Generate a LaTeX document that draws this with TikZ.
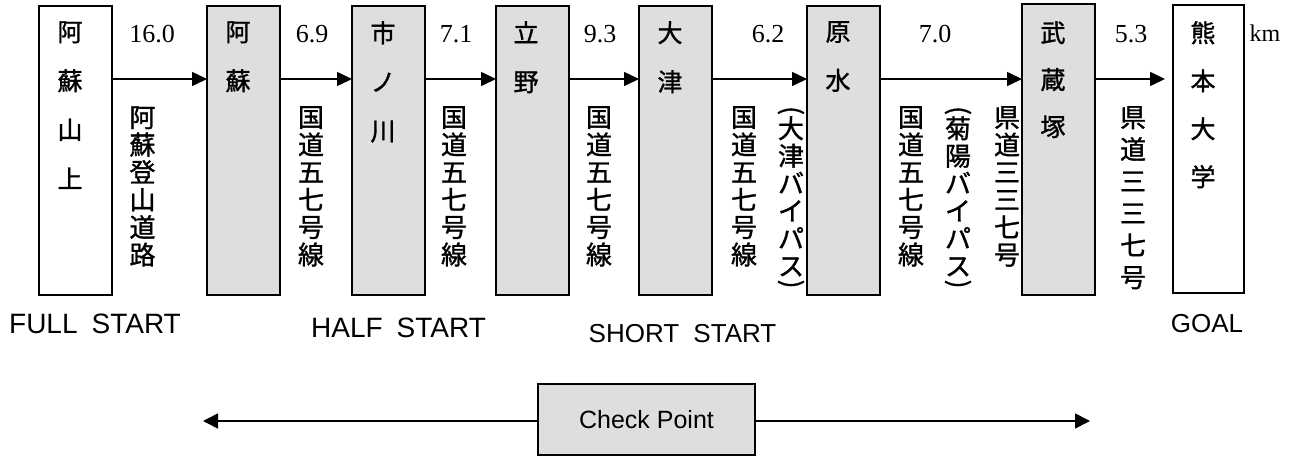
\documentclass[tikz,border=0pt]{standalone}
\usepackage{fontspec}
\setmainfont{Liberation Serif}
\setsansfont{Liberation Sans}
\newfontfamily\jpf{Noto Sans CJK JP}[BoldFont={Noto Sans CJK JP}, BoldFeatures={FakeBold=1.2}]
\newcommand{\jp}{\jpf\bfseries}
\usetikzlibrary{arrows.meta}
\definecolor{boxgray}{RGB}{222,222,222}
\newcommand{\tpar}{\rotatebox[origin=c]{-90}{(}}
\newcommand{\bpar}{\rotatebox[origin=c]{-90}{)}}
\tikzset{
 stn/.style={draw=black, line width=1.5pt, minimum width=73pt, minimum height=289pt, anchor=north west, inner sep=0pt, outer sep=0pt},
 gstn/.style={stn, fill=boxgray},
 stxt/.style={anchor=north, inner sep=0pt, align=center, font=\jp\fontsize{25}{49}\selectfont},
 road/.style={anchor=north, inner sep=0pt, align=center, font=\jp\fontsize{26}{27.5}\selectfont},
 dist/.style={anchor=base, inner sep=0pt, font=\fontsize{26}{30}\selectfont},
 lab/.style={anchor=base, inner sep=0pt, font=\sffamily\fontsize{26}{30}\selectfont},
 labbig/.style={lab, font=\sffamily\fontsize{28}{32}\selectfont},
 arr/.style={line width=1.6pt, -{Triangle[length=15pt,width=14pt]}},
 arrb/.style={line width=1.6pt, -{Triangle[length=15pt,width=15pt]}},
}
\begin{document}
\begin{tikzpicture}[x=1pt,y=-1pt]
\useasboundingbox (0,0) rectangle (1290,457);
\coordinate (ay) at (0,79);
% stations
\node[stn] (b1) at (39,6) {};
\node[gstn] (b2) at (207,6) {};
\node[gstn] (b3) at (352,6) {};
\node[gstn] (b4) at (496,6) {};
\node[gstn] (b5) at (639,6) {};
\node[gstn] (b6) at (807,6) {};
\node[gstn, minimum height=291pt] (b7) at (1022,4) {};
\node[stn, minimum width=71pt, minimum height=288pt] (b8) at (1173,5) {};
\node[stxt] (t1) at (70,21) {阿\\蘇\\山\\上};
\node[stxt] (t2) at (238,21) {阿\\蘇};
\node[stxt] (t3) at (383,21) {市\\ノ\\川};
\node[stxt] (t4) at (526,21) {立\\野};
\node[stxt] (t5) at (670,21) {大\\津};
\node[stxt] (t6) at (838,21) {原\\水};
\node[stxt, font=\jp\fontsize{25}{47}\selectfont] (t7) at (1053,21) {武\\蔵\\塚};
\node[stxt, font=\jp\fontsize{25}{48}\selectfont] (t8) at (1203,21) {熊\\本\\大\\学};
% arrows
\draw[arr] (b1.east|-ay) -- (b2.west|-ay);
\draw[arr] (b2.east|-ay) -- (b3.west|-ay);
\draw[arr] (b3.east|-ay) -- (b4.west|-ay);
\draw[arr] (b4.east|-ay) -- (b5.west|-ay);
\draw[arr] (b5.east|-ay) -- (b6.west|-ay);
\draw[arr] (b6.east|-ay) -- (b7.west|-ay);
\draw[arr, shorten >=8pt] (b7.east|-ay) -- (b8.west|-ay);
% distances
\node[dist] (d1) at (152,43) {16.0};
\node[dist] (d2) at (312,43) {6.9};
\node[dist] (d3) at (456,43) {7.1};
\node[dist] (d4) at (600,43) {9.3};
\node[dist] (d5) at (768,43) {6.2};
\node[dist] (d6) at (935,43) {7.0};
\node[dist] (d7) at (1131,43) {5.3};
\node[dist, font=\fontsize{24}{28}\selectfont] (km) at (1265,42) {km};
% roads
\node[road] (r1) at (142.5,106) {阿\\蘇\\登\\山\\道\\路};
\node[road] (r2) at (311,106) {国\\道\\五\\七\\号\\線};
\node[road] (r3) at (454,106) {国\\道\\五\\七\\号\\線};
\node[road] (r4) at (599,106) {国\\道\\五\\七\\号\\線};
\node[road] (r5) at (744,106) {国\\道\\五\\七\\号\\線};
\node[road] (r6) at (791,106) {\tpar\\[-8pt]大\\津\\バ\\イ\\パ\\ス\\[-11pt]\bpar};
\node[road] (r7) at (911,106) {国\\道\\五\\七\\号\\線};
\node[road] (r8) at (958,106) {\tpar\\[-8pt]菊\\陽\\バ\\イ\\パ\\ス\\[-11pt]\bpar};
\node[road] (r9) at (1007,106) {県\\道\\三\\三\\七\\号};
\node[road, font=\jp\fontsize{26}{32}\selectfont] (r10) at (1133,106) {県\\道\\三\\三\\七\\号};
% start labels
\node[labbig] (l1) at (95,333) {FULL\hspace{0.5em}START};
\node[labbig] (l2) at (398.5,337) {HALF\hspace{0.5em}START};
\node[lab] (l3) at (682.5,342) {SHORT\hspace{0.55em}START};
\node[lab] (l4) at (1207,332) {GOAL};
% check point
\node[draw=black, line width=1.5pt, fill=boxgray, minimum width=217pt, minimum height=71pt, inner sep=0pt, font=\sffamily\fontsize{25}{30}\selectfont] (cp) at (646.5,419.5) {Check Point};
\coordinate (cl) at (203,421);
\coordinate (cr) at (1090,421);
\draw[arrb] (cp.west|-cl) -- (cl);
\draw[arrb] (cp.east|-cr) -- (cr);
\end{tikzpicture}
\end{document}
